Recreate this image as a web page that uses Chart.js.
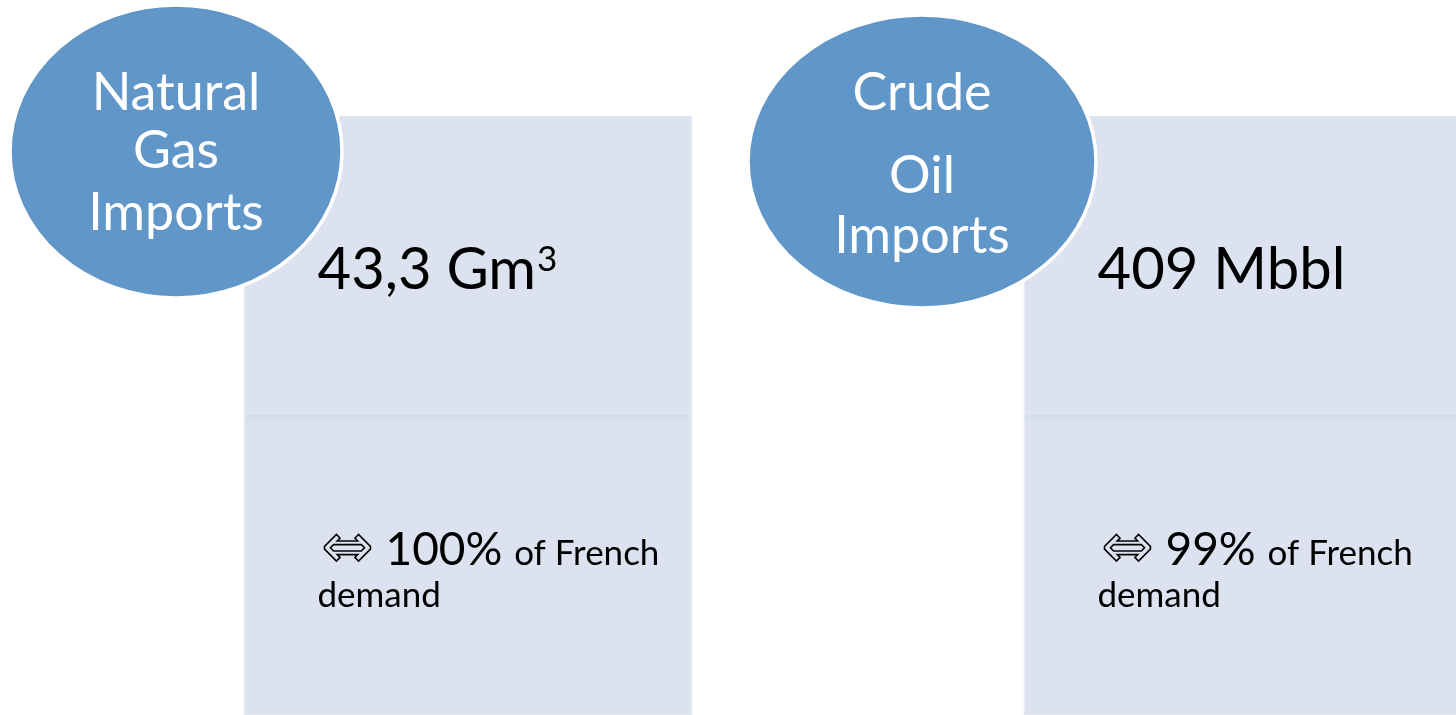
<!DOCTYPE html>
<html><head><meta charset="utf-8">
<script src="https://cdn.jsdelivr.net/npm/chart.js@4.4.1/dist/chart.umd.min.js"></script>
<style>
html,body{margin:0;padding:0;background:#ffffff;overflow:hidden;}
#wrap{width:1456px;height:715px;overflow:hidden;position:relative;background:#ffffff;}
#c{display:block;}
</style></head><body>
<div id="wrap"><canvas id="c" width="1638" height="715"></canvas></div>
<script>
// ---- data ----
const categories = ['Natural Gas Imports', 'Crude Oil Imports'];
const titleLines = [['Natural', 'Gas', 'Imports'], ['Crude', 'Oil', 'Imports']];
const importValues = ['43,3', '409'];
const importUnits = ['Gm', 'Mbbl'];
const unitSuperscripts = ['3', ''];
const demandShares = [100, 99];
const demandText = ['of French', 'demand'];

// ---- layout / style (not data) ----
const LAYOUT = {
  padLeft: 78,
  barPercentage: 449 / 780,
  panelTop: 116, seam: 413, panelBottom: 715,
  ellipses: [
    { dx: -292, cy: 151.5, rx: 166, ry: 146.5 },
    { dx: -326, cy: 161.5, rx: 174, ry: 146.5 }
  ],
  titleBaselines: [[110, 168, 230], [110, 193, 253]],
  valueOffset: 74, valueBaseline: 289,
  demandOffset: 78, demandBaseline: 565, demand2Offset: 74, demand2Baseline: 607
};
const STYLE = {
  panel: '#dce2ef', panelEdge: '#e3e8f2',
  ellipse: '#6196c8', ellipseStroke: '#ffffff',
  titleFont: '52px Lato', valueFont: '58px Lato', supFont: '35px Lato',
  arrowFont: '62px "DejaVu Sans"', pctFont: '46px Lato', smallFont: '35px Lato'
};

const infographic = {
  id: 'infographic',
  afterDatasetsDraw(chart) {
    const ctx = chart.ctx;
    const y = chart.scales.y;
    const meta = chart.getDatasetMeta(0);
    meta.data.forEach((el, i) => {
      const left = el.x - el.width / 2;
      // seam shadow between the two panels
      const seamPx = y.getPixelForValue(LAYOUT.seam);
      ctx.save();
      ctx.fillStyle = 'rgba(90,110,160,0.035)';
      ctx.fillRect(left + 2, seamPx, el.width - 6, 8);
      ctx.restore();

      // ellipse label
      const e = LAYOUT.ellipses[i];
      const cx = el.x + e.dx, cy = y.getPixelForValue(e.cy);
      ctx.save();
      ctx.beginPath();
      ctx.ellipse(cx, cy, e.rx, e.ry, 0, 0, Math.PI * 2);
      ctx.fillStyle = STYLE.ellipse;
      ctx.fill();
      ctx.lineWidth = 3.5;
      ctx.strokeStyle = STYLE.ellipseStroke;
      ctx.stroke();
      ctx.fillStyle = '#ffffff';
      ctx.font = STYLE.titleFont;
      ctx.textAlign = 'center';
      ctx.textBaseline = 'alphabetic';
      titleLines[i].forEach((t, k) => {
        ctx.fillText(t, cx, y.getPixelForValue(LAYOUT.titleBaselines[i][k]));
      });
      ctx.restore();

      // headline value
      ctx.save();
      ctx.fillStyle = '#000000';
      ctx.textAlign = 'left';
      ctx.textBaseline = 'alphabetic';
      ctx.font = STYLE.valueFont;
      let x = left + LAYOUT.valueOffset;
      const vb = y.getPixelForValue(LAYOUT.valueBaseline);
      const main = importValues[i] + ' ' + importUnits[i];
      ctx.fillText(main, x, vb);
      x += ctx.measureText(main).width + 1;
      if (unitSuperscripts[i]) {
        ctx.font = STYLE.supFont;
        ctx.fillText(unitSuperscripts[i], x, vb - 18);
      }

      // demand share (hollow double arrow)
      const db = y.getPixelForValue(LAYOUT.demandBaseline);
      x = left + LAYOUT.demandOffset;
      ctx.font = STYLE.arrowFont;
      ctx.strokeStyle = '#000000';
      ctx.lineWidth = 1.6;
      ctx.lineJoin = 'miter';
      ctx.strokeText('\u21D4', x, db + 2);
      x += ctx.measureText('\u21D4').width + 12;
      ctx.font = STYLE.pctFont;
      const pct = demandShares[i] + '%';
      ctx.fillText(pct, x, db);
      x += ctx.measureText(pct + ' ').width;
      ctx.font = STYLE.smallFont;
      ctx.fillText(demandText[0], x, db);
      ctx.fillText(demandText[1], left + LAYOUT.demand2Offset, y.getPixelForValue(LAYOUT.demand2Baseline));
      ctx.restore();
    });
  }
};

new Chart(document.getElementById('c'), {
  type: 'bar',
  data: {
    labels: categories,
    datasets: [
      {
        label: 'top panel',
        data: categories.map(() => [LAYOUT.panelTop, LAYOUT.seam]),
        backgroundColor: STYLE.panel, borderColor: STYLE.panelEdge, borderWidth: 1,
        borderSkipped: false, grouped: false,
        categoryPercentage: 1, barPercentage: LAYOUT.barPercentage
      },
      {
        label: 'bottom panel',
        data: categories.map(() => [LAYOUT.seam, LAYOUT.panelBottom]),
        backgroundColor: STYLE.panel, borderColor: STYLE.panelEdge, borderWidth: 1,
        borderSkipped: false, grouped: false,
        categoryPercentage: 1, barPercentage: LAYOUT.barPercentage
      }
    ]
  },
  options: {
    responsive: false, animation: false, devicePixelRatio: 1,
    layout: { padding: { left: LAYOUT.padLeft, right: 0, top: 0, bottom: 0 } },
    plugins: { legend: { display: false }, tooltip: { enabled: false }, title: { display: false } },
    scales: {
      x: { type: 'category', display: false, offset: true, grid: { display: false } },
      y: { type: 'linear', display: false, min: 0, max: 715, reverse: true, grid: { display: false } }
    }
  },
  plugins: [infographic]
});
</script>
</body></html>
